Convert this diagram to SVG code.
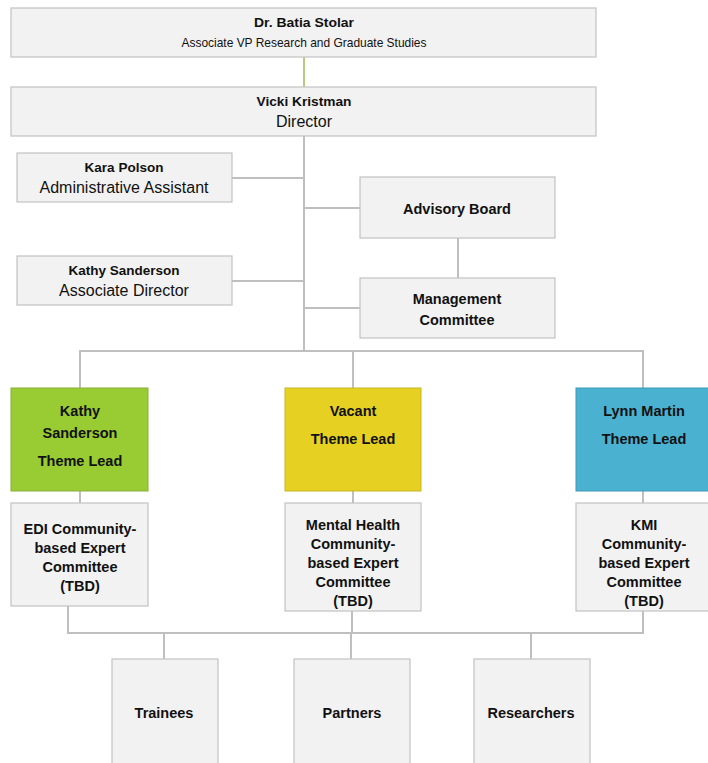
<svg xmlns="http://www.w3.org/2000/svg" width="708" height="763" viewBox="0 0 708 763">
<style>
.box{fill:#F2F2F2;stroke:#C2C2C2;stroke-width:1.2}
.ln{fill:none;stroke:#BFBFBF;stroke-width:2}
.t{font-family:"Liberation Sans",Arial,sans-serif;text-anchor:middle;fill:#111111}
.b{font-weight:bold;font-size:14.5px}
.c{font-weight:bold;font-size:13.5px}
.r{font-size:16px}
</style>
<rect width="708" height="763" fill="#ffffff"/>
<g id="connectors">
<line x1="304" y1="57" x2="304" y2="87" stroke="#9BBB59" stroke-width="1.5"/>
<polyline class="ln" points="304,136 304,351"/>
<line class="ln" x1="232" y1="178" x2="304" y2="178"/>
<line class="ln" x1="304" y1="208" x2="360" y2="208" stroke-width="3"/>
<line class="ln" x1="232" y1="281" x2="304" y2="281"/>
<line class="ln" x1="304" y1="308" x2="360" y2="308" stroke-width="3"/>
<line class="ln" x1="458" y1="238" x2="458" y2="278"/>
<polyline class="ln" points="80,388 80,351 643,351 643,388"/>
<line class="ln" x1="353" y1="351" x2="353" y2="388"/>
<line class="ln" x1="80" y1="491" x2="80" y2="503"/>
<line class="ln" x1="353" y1="491" x2="353" y2="503"/>
<line class="ln" x1="643" y1="491" x2="643" y2="503"/>
<polyline class="ln" points="68,606 68,633 643,633 643,611"/>
<line class="ln" x1="352" y1="611" x2="352" y2="633"/>
<line class="ln" x1="164" y1="633" x2="164" y2="659"/>
<line class="ln" x1="351" y1="633" x2="351" y2="659"/>
<line class="ln" x1="531" y1="633" x2="531" y2="659"/>
</g>
<g id="stolar">
<rect class="box" x="11" y="8" width="585" height="49"/>
<text class="t c" x="304" y="27" textLength="100" lengthAdjust="spacingAndGlyphs">Dr. Batia Stolar</text>
<text class="t" x="304" y="47" font-size="13.5" textLength="245" lengthAdjust="spacingAndGlyphs">Associate VP Research and Graduate Studies</text>
</g>
<g id="kristman">
<rect class="box" x="11" y="87" width="585" height="49"/>
<text class="t c" x="304" y="106" textLength="95" lengthAdjust="spacingAndGlyphs">Vicki Kristman</text>
<text class="t r" x="304" y="127">Director</text>
</g>
<g id="polson">
<rect class="box" x="17" y="153" width="215" height="49"/>
<text class="t c" x="124" y="172">Kara Polson</text>
<text class="t r" x="124" y="193">Administrative Assistant</text>
</g>
<g id="sanderson">
<rect class="box" x="17" y="256" width="215" height="49"/>
<text class="t c" x="124" y="275">Kathy Sanderson</text>
<text class="t r" x="124" y="296">Associate Director</text>
</g>
<g id="advisory">
<rect class="box" x="360" y="177" width="195" height="61"/>
<text class="t b" x="457" y="214">Advisory Board</text>
</g>
<g id="management">
<rect class="box" x="360" y="278" width="195" height="60"/>
<text class="t b" x="457" y="304">Management</text>
<text class="t b" x="457" y="325">Committee</text>
</g>
<g id="lead-edi">
<rect x="11" y="388" width="137" height="103" fill="#99CC33" stroke="#8AAE3A" stroke-width="1"/>
<text class="t b" x="80" y="416">Kathy</text>
<text class="t b" x="80" y="438">Sanderson</text>
<text class="t b" x="80" y="466">Theme Lead</text>
</g>
<g id="lead-mh">
<rect x="285" y="388" width="136" height="103" fill="#E6D021" stroke="#C8B524" stroke-width="1"/>
<text class="t b" x="353" y="416">Vacant</text>
<text class="t b" x="353" y="444">Theme Lead</text>
</g>
<g id="lead-kmi">
<rect x="576" y="388" width="140" height="103" fill="#4BB1D1" stroke="#3F9AB6" stroke-width="1"/>
<text class="t b" x="644" y="416">Lynn Martin</text>
<text class="t b" x="644" y="444">Theme Lead</text>
</g>
<g id="comm-edi">
<rect class="box" x="11" y="503" width="137" height="103"/>
<text class="t b" x="80" y="534">EDI Community-</text>
<text class="t b" x="80" y="553">based Expert</text>
<text class="t b" x="80" y="572">Committee</text>
<text class="t b" x="80" y="591">(TBD)</text>
</g>
<g id="comm-mh">
<rect class="box" x="285" y="503" width="136" height="108"/>
<text class="t b" x="353" y="530">Mental Health</text>
<text class="t b" x="353" y="549">Community-</text>
<text class="t b" x="353" y="568">based Expert</text>
<text class="t b" x="353" y="587">Committee</text>
<text class="t b" x="353" y="606">(TBD)</text>
</g>
<g id="comm-kmi">
<rect class="box" x="576" y="503" width="140" height="108"/>
<text class="t b" x="644" y="530">KMI</text>
<text class="t b" x="644" y="549">Community-</text>
<text class="t b" x="644" y="568">based Expert</text>
<text class="t b" x="644" y="587">Committee</text>
<text class="t b" x="644" y="606">(TBD)</text>
</g>
<g id="trainees">
<rect class="box" x="112" y="659" width="106" height="110"/>
<text class="t b" x="164" y="718">Trainees</text>
</g>
<g id="partners">
<rect class="box" x="294" y="659" width="116" height="110"/>
<text class="t b" x="352" y="718">Partners</text>
</g>
<g id="researchers">
<rect class="box" x="474" y="659" width="116" height="110"/>
<text class="t b" x="531" y="718">Researchers</text>
</g>
</svg>
